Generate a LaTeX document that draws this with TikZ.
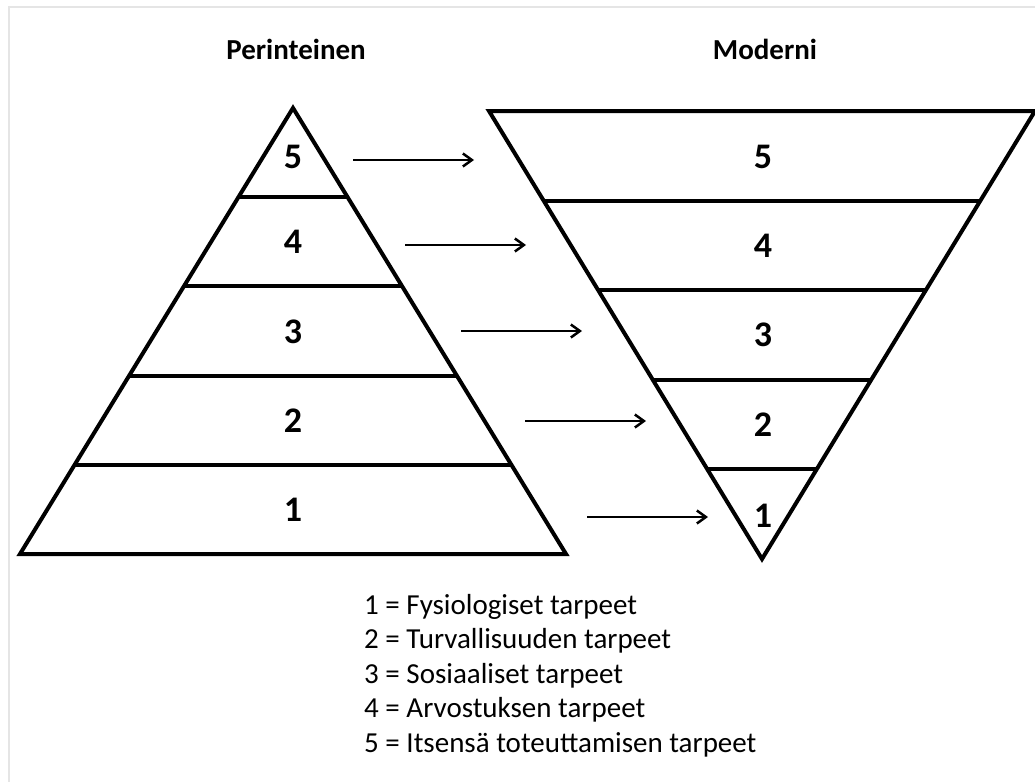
\documentclass[tikz,border=0pt]{standalone}
\usepackage{fontspec}
\setmainfont{Carlito}
\usetikzlibrary{calc,arrows.meta}
\tikzset{
  tri/.style={line width=4pt, line join=miter, draw=black},
  band/.style={line width=4pt, draw=black},
  num/.style={font=\fontsize{36}{40}\selectfont\bfseries, inner sep=0pt},
  ttl/.style={font=\fontsize{29}{32}\selectfont\bfseries, inner sep=0pt, anchor=base},
  leg/.style={font=\fontsize{29}{34.5}\selectfont, inner sep=0pt, anchor=base west},
  conn/.style={line width=2.5pt, -{Straight Barb[length=9pt,width=13pt,line width=2.5pt]}},
  frame/.style={line width=1.5pt, draw=black!10}
}
\begin{document}
\begin{tikzpicture}[x=1pt,y=-1pt]
\useasboundingbox (0,0) rectangle (1035,782);
\fill[white] (0,0) rectangle (1035,782);
% faint frame
\coordinate (fA) at (9,782);
\coordinate (fB) at (9,7);
\coordinate (fC) at (1035,7);
\draw[frame] (fA) -- (fB) -- (fC);

% titles
\node[ttl] (tP) at (296,59.5) {Perinteinen};
\node[ttl] (tM) at (765,59.5) {Moderni};

% left pyramid
\coordinate (La) at (293,108);
\coordinate (Ll) at (20,554);
\coordinate (Lr) at (566,554);
\draw[tri] (La) -- (Ll) -- (Lr) -- cycle;
\foreach \k in {1,2,3,4}{
  \draw[band] ($(La)!\k/5!(Ll)$) -- ($(La)!\k/5!(Lr)$);
}
% right inverted pyramid
\coordinate (Ra) at (762,559);
\coordinate (Rl) at (489,111);
\coordinate (Rr) at (1035,111);
\draw[tri] (Ra) -- (Rl) -- (Rr) -- cycle;
\foreach \k in {1,2,3,4}{
  \draw[band] ($(Ra)!\k/5!(Rl)$) -- ($(Ra)!\k/5!(Rr)$);
}

% numbers
\node[num] (l5) at (293,157) {5};
\node[num] (l4) at (293,242) {4};
\node[num] (l3) at (293,331.5) {3};
\node[num] (l2) at (293,420.5) {2};
\node[num] (l1) at (293,510) {1};
\node[num] (r5) at (763,157) {5};
\node[num] (r4) at (763,245.5) {4};
\node[num] (r3) at (763,335) {3};
\node[num] (r2) at (763,425) {2};
\node[num] (r1) at (763,516) {1};

% arrows
\coordinate (a1s) at (353,160); \coordinate (a1e) at (474,160);
\coordinate (a2s) at (405,245); \coordinate (a2e) at (526,245);
\coordinate (a3s) at (461,331); \coordinate (a3e) at (582,331);
\coordinate (a4s) at (525,421); \coordinate (a4e) at (646,421);
\coordinate (a5s) at (587,517); \coordinate (a5e) at (708,517);
\draw[conn] (a1s) -- (a1e);
\draw[conn] (a2s) -- (a2e);
\draw[conn] (a3s) -- (a3e);
\draw[conn] (a4s) -- (a4e);
\draw[conn] (a5s) -- (a5e);

% legend
\node[leg] (g1) at (364,614) {1 = Fysiologiset tarpeet};
\node[leg] (g2) at (364,648.5) {2 = Turvallisuuden tarpeet};
\node[leg] (g3) at (364,683) {3 = Sosiaaliset tarpeet};
\node[leg] (g4) at (364,717.5) {4 = Arvostuksen tarpeet};
\node[leg] (g5) at (364,752) {5 = Itsensä toteuttamisen tarpeet};
\end{tikzpicture}
\end{document}
